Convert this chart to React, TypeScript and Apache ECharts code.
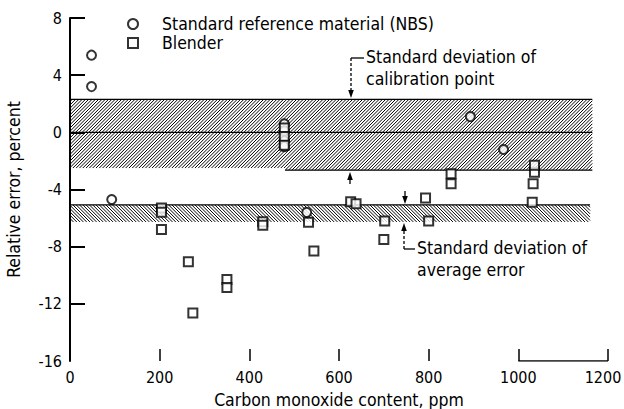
import React, { useEffect, useRef } from "react";
import * as echarts from "echarts";

// Standard reference material (NBS) – circles
const nbsX = [48, 48, 93, 478, 478, 478, 478, 528, 893, 967];
const nbsY = [5.4, 3.2, -4.7, 0.6, 0.1, -0.6, -1.0, -5.6, 1.1, -1.2];

// Blender – squares
const blenderX = [204, 204, 204, 264, 274, 350, 350, 430, 430, 478, 478, 478, 532, 544, 626, 638, 700, 702, 793, 800, 850, 850, 1031, 1033, 1036, 1036];
const blenderY = [-5.3, -5.6, -6.8, -9.06, -12.65, -10.3, -10.86, -6.25, -6.5, 0.3, -0.3, -0.9, -6.3, -8.3, -4.85, -5.0, -7.5, -6.2, -4.6, -6.2, -2.9, -3.6, -4.9, -3.6, -2.8, -2.3];

// Hatched bands: start, end, top, bottom, direction (1 = "/", -1 = "\"), bottom outline
const bandXStart = [0, 480, 0];
const bandXEnd = [480, 1165, 1160];
const bandTop = [2.3, 2.3, -5.08];
const bandBottom = [-2.5, -2.65, -6.27];
const bandDir = [1, 1, -1];
const bandBottomLine = [0, 1, 0];

// Centre line of calibration band, and the partial baseline at bottom right
const centreLine = [[0, 0], [1165, 0]];
const baseLine = [[1000, -16], [1200, -16]];

const xTicks = [200, 400, 600, 800, 1000, 1200];
const yTicks = [8, 4, 0, -4, -8, -12];

const FONT = "'DejaVu Sans Condensed', 'DejaVu Sans', sans-serif";

function arrow(x: number, yTail: number, yTip: number, dashed = false) {
  const dirSign = yTip > yTail ? 1 : -1;
  const headLen = 8;
  return [
    {
      type: "line",
      shape: { x1: x, y1: yTail, x2: x, y2: yTip - dirSign * headLen },
      style: { stroke: "#000", lineWidth: 1.3, lineDash: dashed ? [3, 2] : null },
    },
    {
      type: "polygon",
      shape: { points: [[x - 2.8, yTip - dirSign * headLen], [x + 2.8, yTip - dirSign * headLen], [x, yTip]] },
      style: { fill: "#000" },
    },
  ];
}

export default function App() {
  const ref = useRef<HTMLDivElement>(null);

  useEffect(() => {
    document.body.style.margin = "0";
    const chart = echarts.init(ref.current!, null, { renderer: "svg" });

    const bandData = bandXStart.map((x0, i) => [x0, bandXEnd[i], bandTop[i], bandBottom[i], bandDir[i], bandBottomLine[i]]);

    const option: any = {
      animation: false,
      backgroundColor: "#fff",
      textStyle: { fontFamily: FONT },
      grid: { left: 70, right: 16, top: 18, bottom: 48, outerBoundsMode: "none" },
      legend: {
        orient: "vertical",
        left: 122,
        top: 10,
        itemWidth: 10,
        itemHeight: 10,
        itemGap: 1,
        textStyle: { fontSize: 17.5, lineHeight: 18, fontFamily: FONT, color: "#000", padding: [0, 0, 0, 19] },
        data: ["Standard reference material (NBS)", "Blender"],
      },
      xAxis: {
        type: "value",
        min: 0,
        max: 1200,
        interval: 200,
        name: "Carbon monoxide content, ppm",
        nameLocation: "middle",
        nameGap: 30,
        nameTextStyle: { fontSize: 17.5, fontFamily: FONT, color: "#000" },
        axisLine: { show: false, onZero: false },
        axisTick: { show: true, inside: true, length: 12, customValues: xTicks, lineStyle: { color: "#000", width: 1.5 } },
        axisLabel: {
          fontSize: 16,
          fontFamily: FONT,
          color: "#000",
          margin: 8,
          formatter: (v: number) => (v === 1200 ? "{r|1200}" : String(v)),
          rich: { r: { fontSize: 16, fontFamily: FONT, color: "#000", padding: [0, 10, 0, 0] } },
        },
        splitLine: { show: false },
      },
      yAxis: {
        type: "value",
        min: -16,
        max: 8,
        interval: 4,
        name: "Relative error, percent",
        nameLocation: "middle",
        nameGap: 47,
        nameTextStyle: { fontSize: 17.5, fontFamily: FONT, color: "#000" },
        axisLine: { show: true, onZero: false, lineStyle: { color: "#000", width: 2 } },
        axisTick: { show: true, inside: true, length: 15, customValues: yTicks, lineStyle: { color: "#000", width: 2 } },
        axisLabel: { fontSize: 16, fontFamily: FONT, color: "#000", margin: 8 },
        splitLine: { show: false },
      },
      series: [
        {
          type: "custom",
          name: "bands",
          silent: true,
          z: 1,
          encode: { x: [0, 1], y: [2, 3] },
          data: bandData,
          renderItem: (params: any, api: any) => {
            const x0 = api.value(0), x1 = api.value(1), top = api.value(2), bot = api.value(3), dir = api.value(4), bl = api.value(5);
            const p0 = api.coord([x0, top]);
            const p1 = api.coord([x1, bot]);
            const X1 = p0[0], Y1 = p0[1], X2 = p1[0], Y2 = p1[1];
            const s = 3.3;
            const children: any[] = [];
            if (dir > 0) {
              for (let k = Math.ceil((X1 + Y1) / s) * s; k <= X2 + Y2; k += s) {
                const xa = Math.max(X1, k - Y2), xb = Math.min(X2, k - Y1);
                if (xb > xa) children.push({ type: "line", shape: { x1: xa, y1: k - xa, x2: xb, y2: k - xb }, style: { stroke: "#000", lineWidth: 1.0 } });
              }
            } else {
              for (let k = Math.ceil((Y1 - X2) / s) * s; k <= Y2 - X1; k += s) {
                const xa = Math.max(X1, Y1 - k), xb = Math.min(X2, Y2 - k);
                if (xb > xa) children.push({ type: "line", shape: { x1: xa, y1: xa + k, x2: xb, y2: xb + k }, style: { stroke: "#000", lineWidth: 1.0 } });
              }
            }
            children.push({ type: "line", shape: { x1: X1, y1: Y1, x2: X2, y2: Y1 }, style: { stroke: "#000", lineWidth: 1.3 } });
            if (bl) children.push({ type: "line", shape: { x1: X1, y1: Y2, x2: X2, y2: Y2 }, style: { stroke: "#000", lineWidth: 1.3 } });
            return { type: "group", children };
          },
        },
        {
          type: "line",
          name: "centre",
          silent: true,
          symbol: "none",
          z: 2,
          lineStyle: { color: "#000", width: 1.3 },
          data: centreLine,
        },
        {
          type: "line",
          name: "base",
          silent: true,
          symbol: "none",
          z: 2,
          lineStyle: { color: "#000", width: 1.5 },
          data: baseLine,
        },
        {
          type: "scatter",
          name: "Standard reference material (NBS)",
          symbol: "emptyCircle",
          symbolSize: 9,
          z: 5,
          itemStyle: { color: "#000", borderColor: "#000", borderWidth: 1.5 },
          data: nbsX.map((x, i) => [x, nbsY[i]]),
        },
        {
          type: "scatter",
          name: "Blender",
          symbol: "emptyRect",
          symbolSize: 9,
          z: 5,
          itemStyle: { color: "#000", borderColor: "#000", borderWidth: 1.5 },
          data: blenderX.map((x, i) => [x, blenderY[i]]),
        },
      ],
      graphic: [
        // upper annotation
        { type: "text", style: { text: "Standard deviation of", x: 366, y: 57, fontSize: 17.5, fontFamily: FONT, fill: "#000", verticalAlign: "middle" } },
        { type: "text", style: { text: "calibration point", x: 366, y: 79, fontSize: 17.5, fontFamily: FONT, fill: "#000", verticalAlign: "middle" } },
        { type: "line", shape: { x1: 351, y1: 58, x2: 364, y2: 58 }, style: { stroke: "#000", lineWidth: 1.3 } },
        ...arrow(351, 58, 98, true),
        ...arrow(350, 184, 172),
        ...arrow(405, 191, 204),
        // lower annotation
        ...arrow(404, 249, 223, true),
        { type: "line", shape: { x1: 404, y1: 249, x2: 415, y2: 249 }, style: { stroke: "#000", lineWidth: 1.3 } },
        { type: "text", style: { text: "Standard deviation of", x: 417, y: 248, fontSize: 17.5, fontFamily: FONT, fill: "#000", verticalAlign: "middle" } },
        { type: "text", style: { text: "average error", x: 417, y: 270, fontSize: 17.5, fontFamily: FONT, fill: "#000", verticalAlign: "middle" } },
      ],
    };

    chart.setOption(option);
    return () => chart.dispose();
  }, []);

  return <div ref={ref} style={{ width: 624, height: 409 }} />;
}
